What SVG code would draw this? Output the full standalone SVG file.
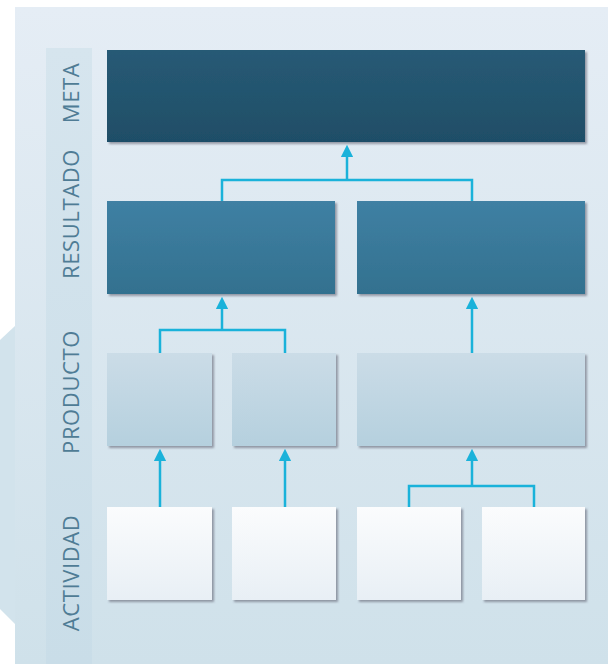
<svg xmlns="http://www.w3.org/2000/svg" width="608" height="664" viewBox="0 0 608 664">
<defs>
<linearGradient id="bg" x1="0" y1="0" x2="0" y2="1"><stop offset="0" stop-color="#e5edf5"/><stop offset="1" stop-color="#cfe1ea"/></linearGradient>
<linearGradient id="strip" x1="0" y1="0" x2="0" y2="1"><stop offset="0" stop-color="#d6e5ee"/><stop offset="1" stop-color="#c9dde8"/></linearGradient>
<linearGradient id="gMeta" x1="0" y1="0" x2="0" y2="1"><stop offset="0" stop-color="#275a75"/><stop offset="1" stop-color="#1f4e67"/></linearGradient>
<linearGradient id="gRes" x1="0" y1="0" x2="0" y2="1"><stop offset="0" stop-color="#3f80a3"/><stop offset="1" stop-color="#33718f"/></linearGradient>
<linearGradient id="gProd" x1="0" y1="0" x2="0" y2="1"><stop offset="0" stop-color="#cbdce7"/><stop offset="1" stop-color="#b5d0de"/></linearGradient>
<linearGradient id="gAct" x1="0" y1="0" x2="0" y2="1"><stop offset="0" stop-color="#fbfcfd"/><stop offset="1" stop-color="#e8eff5"/></linearGradient>
<marker id="arr" viewBox="0 0 10 10" refX="5" refY="5" markerWidth="5" markerHeight="5" orient="auto"><path d="M0,0 L10,5 L0,10 z" fill="#1ab2da"/></marker>
<filter id="sh" x="-5%" y="-5%" width="115%" height="120%"><feDropShadow dx="2" dy="2" stdDeviation="1" flood-color="#556" flood-opacity="0.55"/></filter>
</defs>
<style>
.lbl{font-family:"Open Sans","Liberation Sans",sans-serif;font-size:22px;fill:#4f7c95;letter-spacing:0.6px;text-anchor:middle;dominant-baseline:central}
.conn{fill:none;stroke:#1ab2da;stroke-width:2.5}
.box{filter:url(#sh)}
</style>
<rect width="608" height="664" fill="#ffffff"/>
<path d="M0,340 L15,326 L15,624 L0,609 Z" fill="#d2e3ec"/>
<rect x="15" y="7" width="593" height="657" fill="url(#bg)"/>
<rect x="46" y="48" width="46" height="616" fill="url(#strip)"/>
<g id="labels">
<text class="lbl" transform="translate(70,93) rotate(-90)">META</text>
<text class="lbl" transform="translate(70,214) rotate(-90)">RESULTADO</text>
<text class="lbl" transform="translate(70,392) rotate(-90)">PRODUCTO</text>
<text class="lbl" transform="translate(70,573) rotate(-90)">ACTIVIDAD</text>
</g>
<g id="meta"><rect class="box" x="107" y="50" width="478" height="92" fill="url(#gMeta)"/></g>
<g id="res1"><rect class="box" x="107" y="201" width="228" height="93" fill="url(#gRes)"/></g>
<g id="res2"><rect class="box" x="357" y="201" width="228" height="93" fill="url(#gRes)"/></g>
<g id="prod1"><rect class="box" x="107" y="353" width="105" height="93" fill="url(#gProd)"/></g>
<g id="prod2"><rect class="box" x="232" y="353" width="104" height="93" fill="url(#gProd)"/></g>
<g id="prod3"><rect class="box" x="357" y="353" width="228" height="93" fill="url(#gProd)"/></g>
<g id="act1"><rect class="box" x="107" y="507" width="105" height="93" fill="url(#gAct)"/></g>
<g id="act2"><rect class="box" x="232" y="507" width="104" height="93" fill="url(#gAct)"/></g>
<g id="act3"><rect class="box" x="357" y="507" width="104" height="93" fill="url(#gAct)"/></g>
<g id="act4"><rect class="box" x="482" y="507" width="103" height="93" fill="url(#gAct)"/></g>
<g id="connectors">
<path class="conn" d="M222,201 V180 H472 V201"/>
<path class="conn" d="M347,180 V151" marker-end="url(#arr)"/>
<path class="conn" d="M160,353 V330 H285 V353"/>
<path class="conn" d="M222,330 V303" marker-end="url(#arr)"/>
<path class="conn" d="M472,353 V303" marker-end="url(#arr)"/>
<path class="conn" d="M160,507 V455" marker-end="url(#arr)"/>
<path class="conn" d="M285,507 V455" marker-end="url(#arr)"/>
<path class="conn" d="M409,507 V486 H534 V507"/>
<path class="conn" d="M472,486 V455" marker-end="url(#arr)"/>
</g>
</svg>
